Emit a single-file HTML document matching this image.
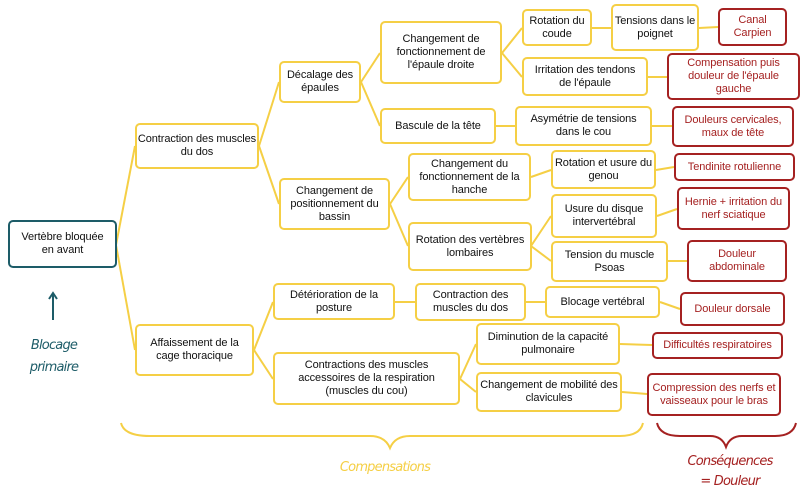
<!DOCTYPE html>
<html><head><meta charset="utf-8"><style>
body{margin:0;width:805px;height:499px;background:#fff;position:relative;overflow:hidden;font-family:"Liberation Sans",sans-serif}
.b{position:absolute;box-sizing:border-box;border:2px solid #f5cf45;border-radius:5px;background:#fff;display:flex;align-items:center;justify-content:center;text-align:center;font-size:11px;line-height:13px;color:#111;letter-spacing:-0.1px}
.r{border-color:#a52121;color:#a52121}
.t{border-color:#1d5c68}
svg{position:absolute;left:0;top:0}
.h{position:absolute;font-family:"DejaVu Sans",sans-serif;font-style:italic;font-weight:300;font-size:13px;letter-spacing:-0.8px}
</style></head><body>
<svg width="805" height="499">
<g stroke="#f5cf45" stroke-width="2" fill="none">
<path d="M116 245 L135 146"/><path d="M116 245 L135 350"/>
<path d="M259 146 L279 82"/><path d="M259 146 L279 204"/>
<path d="M361 82 L380 53"/><path d="M361 82 L380 126"/>
<path d="M502 53 L522 28"/><path d="M502 53 L522 77"/>
<path d="M592 28 L611 28"/><path d="M699 28 L718 27"/>
<path d="M648 77 L667 77"/><path d="M496 126 L515 126"/><path d="M652 126 L672 126"/>
<path d="M390 204 L408 177"/><path d="M390 204 L408 246"/>
<path d="M531 177 L551 170"/><path d="M656 170 L674 167"/>
<path d="M531 246 L551 216"/><path d="M531 246 L551 261"/>
<path d="M657 216 L677 209"/><path d="M668 261 L687 261"/>
<path d="M254 350 L273 302"/><path d="M254 350 L273 379"/>
<path d="M395 302 L415 302"/><path d="M526 302 L545 302"/><path d="M660 302 L680 309"/>
<path d="M460 379 L476 344"/><path d="M460 379 L476 392"/>
<path d="M620 344 L652 345"/><path d="M622 392 L647 394"/>
<path d="M121 423 Q124 436 150 436 L370 436 Q385 436 390 448 Q395 436 410 436 L620 436 Q640 436 643 423"/>
</g>
<path d="M657 423 Q660 436 680 436 L710 436 Q722 436 726 447 Q730 436 742 436 L775 436 Q793 436 796 423" stroke="#a52121" stroke-width="2" fill="none"/>
<path d="M53 320 L53 294 M49 299 L53 293 L57 299" stroke="#1d5c68" stroke-width="2" fill="none"/>
</svg>
<div class="b t" style="left:8px;top:220px;width:109px;height:48px">Vertèbre bloquée<br>en avant</div>
<div class="b" style="left:135px;top:123px;width:124px;height:46px">Contraction des muscles<br>du dos</div>
<div class="b" style="left:279px;top:61px;width:82px;height:42px">Décalage des<br>épaules</div>
<div class="b" style="left:279px;top:178px;width:111px;height:52px">Changement de<br>positionnement du<br>bassin</div>
<div class="b" style="left:380px;top:21px;width:122px;height:63px">Changement de<br>fonctionnement de<br>l'épaule droite</div>
<div class="b" style="left:380px;top:108px;width:116px;height:36px">Bascule de la tête</div>
<div class="b" style="left:522px;top:9px;width:70px;height:37px">Rotation du<br>coude</div>
<div class="b" style="left:522px;top:57px;width:126px;height:39px">Irritation des tendons<br>de l'épaule</div>
<div class="b" style="left:611px;top:4px;width:88px;height:47px">Tensions dans le<br>poignet</div>
<div class="b r" style="left:718px;top:8px;width:69px;height:38px">Canal<br>Carpien</div>
<div class="b r" style="left:667px;top:53px;width:133px;height:47px">Compensation puis<br>douleur de l'épaule<br>gauche</div>
<div class="b" style="left:515px;top:106px;width:137px;height:40px">Asymétrie de tensions<br>dans le cou</div>
<div class="b r" style="left:672px;top:106px;width:122px;height:41px">Douleurs cervicales,<br>maux de tête</div>
<div class="b" style="left:408px;top:153px;width:123px;height:48px">Changement du<br>fonctionnement de la<br>hanche</div>
<div class="b" style="left:551px;top:150px;width:105px;height:39px">Rotation et usure du<br>genou</div>
<div class="b r" style="left:674px;top:153px;width:121px;height:28px">Tendinite rotulienne</div>
<div class="b" style="left:408px;top:222px;width:124px;height:49px">Rotation des vertèbres<br>lombaires</div>
<div class="b" style="left:551px;top:194px;width:106px;height:44px">Usure du disque<br>intervertébral</div>
<div class="b r" style="left:677px;top:187px;width:113px;height:43px">Hernie + irritation du<br>nerf sciatique</div>
<div class="b" style="left:551px;top:241px;width:117px;height:41px">Tension du muscle<br>Psoas</div>
<div class="b r" style="left:687px;top:240px;width:100px;height:42px">Douleur<br>abdominale</div>
<div class="b" style="left:135px;top:324px;width:119px;height:52px">Affaissement de la<br>cage thoracique</div>
<div class="b" style="left:273px;top:283px;width:122px;height:37px">Détérioration de la<br>posture</div>
<div class="b" style="left:415px;top:283px;width:111px;height:38px">Contraction des<br>muscles du dos</div>
<div class="b" style="left:545px;top:286px;width:115px;height:32px">Blocage vertébral</div>
<div class="b r" style="left:680px;top:292px;width:105px;height:34px">Douleur dorsale</div>
<div class="b" style="left:273px;top:352px;width:187px;height:53px">Contractions des muscles<br>accessoires de la respiration<br>(muscles du cou)</div>
<div class="b" style="left:476px;top:323px;width:144px;height:42px">Diminution de la capacité<br>pulmonaire</div>
<div class="b" style="left:476px;top:372px;width:146px;height:40px">Changement de mobilité des<br>clavicules</div>
<div class="b r" style="left:652px;top:332px;width:131px;height:27px">Difficultés respiratoires</div>
<div class="b r" style="left:647px;top:373px;width:134px;height:43px">Compression des nerfs et<br>vaisseaux pour le bras</div>
<div class="h" style="left:26px;top:335px;width:56px;text-align:center;color:#1d5c68;line-height:22px">Blocage<br>primaire</div>
<div class="h" style="left:330px;top:460px;width:110px;text-align:center;color:#f5cf45">Compensations</div>
<div class="h" style="left:680px;top:452px;width:100px;text-align:center;color:#a52121;line-height:20px">Conséquences<br>= Douleur</div>
</body></html>
